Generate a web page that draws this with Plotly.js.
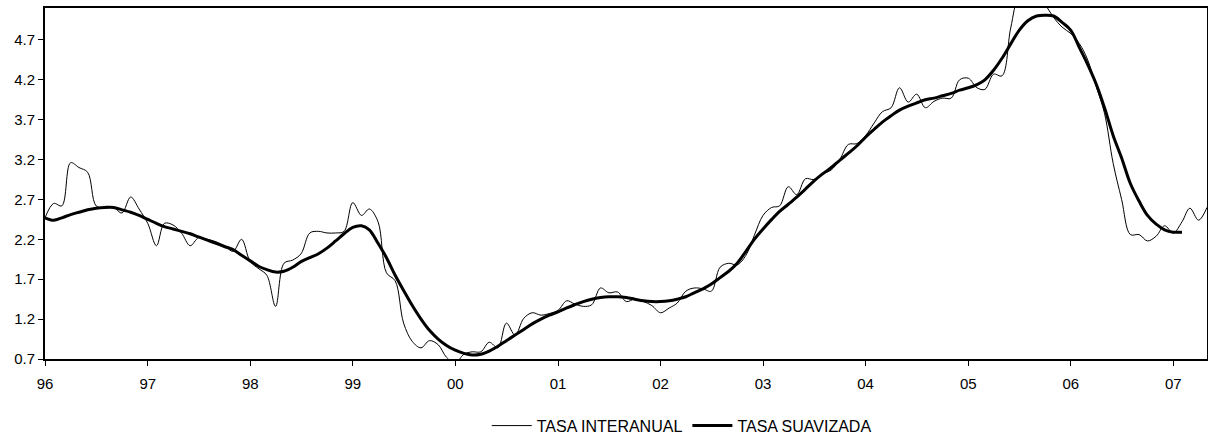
<!DOCTYPE html>
<html>
<head>
<meta charset="utf-8">
<script src="https://cdn.plot.ly/plotly-3.0.1.min.js"></script>
<style>html,body{margin:0;padding:0;background:#fff;}#chart{width:1208px;height:434px;}</style>
</head>
<body>
<div id="chart"></div>
<script>
// Monthly series starting January 1996
const startYear = 1996;
const tasaInteranual = [
  2.47,2.65,2.62,3.16,3.10,3.04,2.62,2.59,2.60,2.53,2.73,2.58,
  2.40,2.12,2.40,2.38,2.28,2.12,2.22,2.20,2.17,2.12,2.05,2.20,
  1.92,1.83,1.75,1.36,1.90,1.94,2.02,2.28,2.30,2.28,2.28,2.30,
  2.66,2.50,2.58,2.42,1.78,1.68,1.15,0.92,0.84,0.93,0.88,0.72,
  0.65,0.76,0.79,0.79,0.91,0.84,1.15,1.00,1.21,1.28,1.25,1.27,
  1.31,1.43,1.39,1.36,1.38,1.59,1.53,1.54,1.42,1.45,1.42,1.37,
  1.28,1.34,1.40,1.55,1.59,1.58,1.55,1.85,1.90,1.88,2.00,2.25,
  2.50,2.60,2.62,2.86,2.76,2.96,2.95,3.02,3.07,3.20,3.39,3.40,
  3.50,3.66,3.80,3.85,4.10,3.92,4.02,3.85,3.93,3.97,3.97,4.20,
  4.22,4.10,4.08,4.27,4.25,4.85,5.25,5.30,5.30,5.15,4.98,4.86,
  4.78,4.65,4.46,4.12,3.78,3.15,2.70,2.26,2.26,2.18,2.24,2.37,
  2.28,2.42,2.59,2.44,2.60
];
const tasaSuavizada = [
  2.47,2.44,2.47,2.51,2.54,2.57,2.59,2.60,2.60,2.57,2.54,2.50,
  2.45,2.40,2.36,2.33,2.30,2.27,2.23,2.19,2.15,2.11,2.07,2.00,
  1.93,1.86,1.82,1.79,1.80,1.85,1.92,1.97,2.02,2.09,2.18,2.27,
  2.35,2.37,2.32,2.15,1.97,1.75,1.56,1.37,1.20,1.06,0.95,0.87,
  0.81,0.77,0.75,0.76,0.80,0.86,0.93,1.00,1.07,1.14,1.20,1.25,
  1.29,1.34,1.38,1.42,1.45,1.47,1.48,1.48,1.47,1.45,1.43,1.42,
  1.42,1.43,1.45,1.48,1.53,1.58,1.64,1.72,1.80,1.90,2.05,2.20,
  2.33,2.45,2.55,2.64,2.73,2.83,2.93,3.02,3.10,3.19,3.28,3.37,
  3.48,3.58,3.67,3.75,3.82,3.87,3.91,3.95,3.97,4.00,4.03,4.07,
  4.10,4.14,4.20,4.32,4.47,4.65,4.82,4.94,5.00,5.01,5.00,4.92,
  4.82,4.60,4.40,4.15,3.85,3.50,3.22,2.90,2.68,2.50,2.39,2.32,
  2.29,2.29
];
const yearTickVals = ['1996-01-01','1997-01-01','1998-01-01','1999-01-01','2000-01-01','2001-01-01','2002-01-01','2003-01-01','2004-01-01','2005-01-01','2006-01-01','2007-01-01'];
const yearTickText = ['96','97','98','99','00','01','02','03','04','05','06','07'];
const yTickVals = [0.7,1.2,1.7,2.2,2.7,3.2,3.7,4.2,4.7];
const yTickText = ['0.7','1.2','1.7','2.2','2.7','3.2','3.7','4.2','4.7'];

function monthDate(i){
  const y = startYear + Math.floor(i/12);
  const m = (i % 12) + 1;
  return y + '-' + (m < 10 ? '0' + m : m) + '-01';
}
const xInter = tasaInteranual.map((_, i) => monthDate(i));
const xSuav = tasaSuavizada.map((_, i) => monthDate(i));

const FONT = 'Liberation Sans, Arial, sans-serif';
const traces = [
  {x: xInter, y: tasaInteranual, type: 'scatter', mode: 'lines', name: 'TASA INTERANUAL',
   line: {color: '#000', width: 1, shape: 'spline'}},
  {x: xSuav, y: tasaSuavizada, type: 'scatter', mode: 'lines', name: 'TASA SUAVIZADA',
   line: {color: '#000', width: 3, shape: 'spline'}}
];
const layout = {
  width: 1208, height: 434,
  paper_bgcolor: '#fff', plot_bgcolor: '#fff',
  margin: {l: 45, r: 1, t: 8, b: 75, autoexpand: false},
  font: {family: FONT, size: 15, color: '#000'},
  showlegend: true,
  legend: {orientation: 'h', x: 0.548, xanchor: 'center', y: -0.19, yanchor: 'middle',
           font: {family: FONT, size: 16, color: '#000'}, bgcolor: 'rgba(0,0,0,0)', itemwidth: 40},
  xaxis: {type: 'date', range: ['1996-01-01', '2007-05-01'], tickmode: 'array',
          tickvals: yearTickVals, ticktext: yearTickText, ticks: 'outside', ticklen: 5, tickwidth: 1,
          tickcolor: '#000', showline: true, linecolor: '#000', linewidth: 2, mirror: true,
          showgrid: false, zeroline: false, ticklabelstandoff: 5,
          tickfont: {family: FONT, size: 15, color: '#000'}},
  yaxis: {range: [0.7, 5.1], tickmode: 'array', tickvals: yTickVals, ticktext: yTickText,
          ticks: 'outside', ticklen: 5, tickwidth: 1, tickcolor: '#000',
          showline: true, linecolor: '#000', linewidth: 2, mirror: true,
          showgrid: false, zeroline: false,
          tickfont: {family: FONT, size: 15, color: '#000'}}
};
Plotly.newPlot('chart', traces, layout, {displayModeBar: false, staticPlot: true});
</script>
</body>
</html>
